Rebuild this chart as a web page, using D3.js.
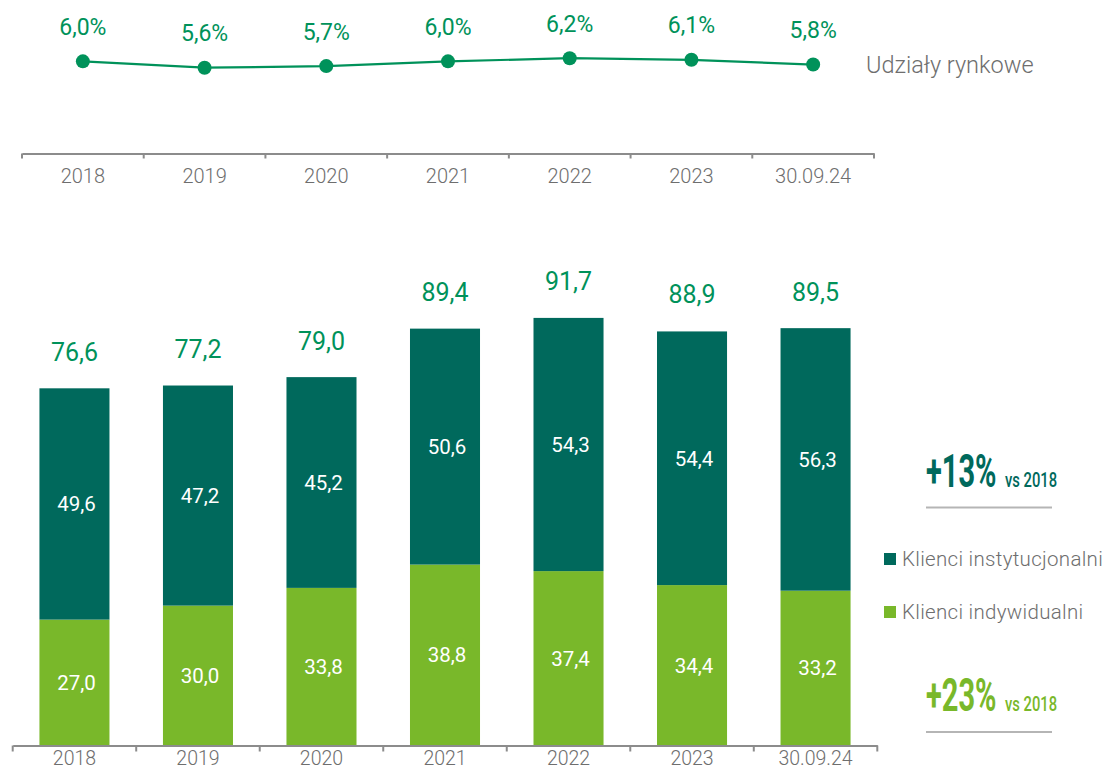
<!DOCTYPE html>
<html><head><meta charset="utf-8">
<script src="https://cdn.jsdelivr.net/npm/d3@7"></script>
<style>
html,body{margin:0;padding:0;background:#fff;}
svg{display:block;}
text{font-family:Roboto, "Open Sans", sans-serif;}
</style></head>
<body>
<svg id="c" width="1104" height="771"></svg>
<script>
const categories = ['2018','2019','2020','2021','2022','2023','30.09.24'];
const marketShare = [6.0,5.6,5.7,6.0,6.2,6.1,5.8];
const individual = [27.0,30.0,33.8,38.8,37.4,34.4,33.2];
const institutional = [49.6,47.2,45.2,50.6,54.3,54.4,56.3];
const totals = [76.6,77.2,79.0,89.4,91.7,88.9,89.5];
const seriesNames = ['Klienci instytucjonalni','Klienci indywidualni'];
const growthLabels = ['+13%','+23%'];
const growthSuffix = 'vs 2018';
const shareTitle = 'Udziały rynkowe';

const C_DARK = '#00695C', C_LIGHT = '#79B82A', C_GREEN = '#00925A', C_AXIS = '#8c8c8c', C_TXT = '#6e6e6e';
const fmt = v => d3.format('.1f')(v).replace('.', ',');

const svg = d3.select('#c');

// ---------- Top: market share line ----------
const xTop = d3.scaleBand().domain(categories).range([22, 874]);
const yTop = d3.scaleLinear().domain([5.6, 6.2]).range([67.7, 58.2]);

const topAxis = svg.append('g').attr('transform','translate(0,153.5)')
  .call(d3.axisBottom(xTop).tickSize(0).tickPadding(15));
topAxis.select('.domain').attr('stroke', C_AXIS).attr('stroke-width', 2);
topAxis.selectAll('.tick text').attr('font-size', 20).attr('fill', C_TXT).attr('font-family','Roboto').attr('font-weight',300);
topAxis.selectAll('.bnd').data(d3.range(categories.length+1)).enter().append('line')
  .attr('x1', i => xTop.range()[0] + i*xTop.step()).attr('x2', i => xTop.range()[0] + i*xTop.step())
  .attr('y1', 0).attr('y2', 5).attr('stroke', C_AXIS).attr('stroke-width', 2);

const cx = d => xTop(d) + xTop.bandwidth()/2;
const lineData = categories.map((c,i)=>({c, v: marketShare[i]}));
svg.append('path').datum(lineData)
  .attr('d', d3.line().x(d=>cx(d.c)).y(d=>yTop(d.v)))
  .attr('fill','none').attr('stroke', C_GREEN).attr('stroke-width', 2.2);
svg.selectAll('.pt').data(lineData).enter().append('circle')
  .attr('cx', d=>cx(d.c)).attr('cy', d=>yTop(d.v)).attr('r', 7).attr('fill', C_GREEN);
svg.selectAll('.ptl').data(lineData).enter().append('text')
  .attr('x', d=>cx(d.c)).attr('y', d=>yTop(d.v)-26.5)
  .attr('text-anchor','middle').attr('font-size', 23).attr('fill', C_GREEN)
  .text(d=>fmt(d.v)+'%');
svg.append('text').attr('x', 866).attr('y', 73).attr('font-size', 23.5).attr('font-weight',300)
  .attr('fill', C_TXT).text(shareTitle);

// ---------- Bottom: stacked bars ----------
const xB = d3.scaleBand().domain(categories).range([12.7, 877.3]).paddingInner(0.433).paddingOuter(0.2165);
const yB = d3.scaleLinear().domain([0, 100]).range([745.5, 745.5 - 466.3]);

const rows = categories.map((c,i)=>({c, individual: individual[i], institutional: institutional[i], total: totals[i]}));
const stack = d3.stack().keys(['individual','institutional'])(rows);
const colors = {individual: C_LIGHT, institutional: C_DARK};

const layers = svg.selectAll('.layer').data(stack).enter().append('g').attr('fill', d=>colors[d.key]);
layers.selectAll('rect').data(d=>d).enter().append('rect')
  .attr('x', d=>xB(d.data.c)).attr('width', xB.bandwidth())
  .attr('y', d=>yB(d[1])).attr('height', d=>yB(d[0])-yB(d[1]));
layers.selectAll('text').data(d=>d.map(p=>({p, key:d.key}))).enter().append('text')
  .attr('x', d=>xB(d.p.data.c)+xB.bandwidth()/2+2)
  .attr('y', d=>(yB(d.p[0])+yB(d.p[1]))/2).attr('dy','0.36em')
  .attr('text-anchor','middle').attr('font-size', 20.5).attr('fill','#fff')
  .text(d=>fmt(d.p.data[d.key]));

svg.selectAll('.tot').data(rows).enter().append('text')
  .attr('x', d=>xB(d.c)+xB.bandwidth()/2).attr('y', d=>yB(d.total)-27.5)
  .attr('text-anchor','middle').attr('font-size', 25).attr('fill', C_GREEN)
  .text(d=>fmt(d.total));

const botAxis = svg.append('g').attr('transform','translate(0,745.5)')
  .call(d3.axisBottom(xB).tickSize(0).tickPadding(6));
botAxis.select('.domain').attr('stroke', C_AXIS).attr('stroke-width', 2);
botAxis.selectAll('.tick text').attr('font-size', 19.5).attr('fill', C_TXT).attr('font-family','Roboto').attr('font-weight',300);
botAxis.selectAll('.bnd').data(d3.range(categories.length+1)).enter().append('line')
  .attr('x1', i => xB.range()[0] + i*xB.step()).attr('x2', i => xB.range()[0] + i*xB.step())
  .attr('y1', 0).attr('y2', 6).attr('stroke', C_AXIS).attr('stroke-width', 2);

// ---------- Legend ----------
const legend = svg.selectAll('.lg').data(seriesNames).enter().append('g')
  .attr('transform', (d,i)=>`translate(884,${553 + i*53})`);
legend.append('rect').attr('width',12).attr('height',12).attr('fill',(d,i)=> i===0?C_DARK:C_LIGHT);
legend.append('text').attr('x',18).attr('y',6).attr('dy','0.36em').attr('font-size',20.5)
  .attr('letter-spacing',0.3)
  .attr('font-weight',300).attr('fill',C_TXT).text(d=>d);

// ---------- Growth annotations (condensed via horizontal scale) ----------
const growth = svg.selectAll('.gr').data(growthLabels).enter().append('g')
  .attr('transform',(d,i)=>`translate(926,${i===0?486.5:711})`);
growth.append('text').attr('x',0).attr('y',0)
  .attr('font-size',46).attr('font-weight',700)
  .attr('transform','scale(0.63,1)')
  .attr('fill',(d,i)=> i===0?C_DARK:C_LIGHT).text(d=>d);
growth.append('text').attr('x',0).attr('y',0)
  .attr('font-size',20.5).attr('font-weight',500)
  .attr('transform','translate(79,0) scale(0.72,1)')
  .attr('fill',(d,i)=> i===0?C_DARK:C_LIGHT).text(growthSuffix);
growth.append('line').attr('x1',0).attr('x2',126).attr('y1',21).attr('y2',21)
  .attr('stroke','#b5b5b5').attr('stroke-width',2);
</script>
</body></html>
